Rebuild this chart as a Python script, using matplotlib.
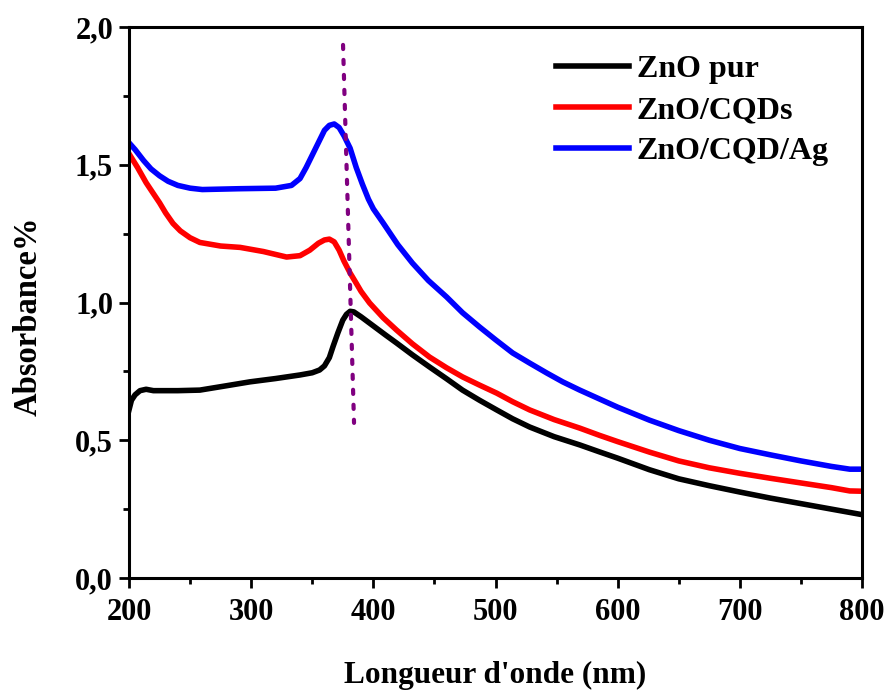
import numpy as np
import matplotlib
matplotlib.use("Agg")
import matplotlib.pyplot as plt
from matplotlib.ticker import MultipleLocator, FuncFormatter

plt.rcParams['font.family'] = ['Liberation Serif', 'DejaVu Serif']
plt.rcParams['font.weight'] = 'bold'

# ZnO pur
wl_zno = [200, 202, 205, 209, 214, 220, 240, 258, 280, 299, 320, 340, 350, 356, 360, 364, 367,
          371, 375, 378, 381, 384, 390, 400, 410, 419, 432, 446, 460, 473, 487, 501, 514, 528,
          548, 569, 585, 600, 626, 650, 675, 700, 725, 750, 775, 800]
abs_zno = [0.61, 0.645, 0.665, 0.68, 0.685, 0.68, 0.68, 0.682, 0.698, 0.712, 0.724, 0.737, 0.745,
           0.755, 0.77, 0.80, 0.84, 0.89, 0.936, 0.957, 0.968, 0.966, 0.948, 0.915, 0.882, 0.853,
           0.81, 0.766, 0.723, 0.682, 0.645, 0.61, 0.578, 0.548, 0.513, 0.483, 0.458, 0.435,
           0.393, 0.36, 0.335, 0.312, 0.29, 0.27, 0.25, 0.23]

# ZnO/CQDs
wl_cqd = [200, 207, 214, 220, 225, 230, 236, 242, 250, 258, 275, 291, 310, 329, 340, 348, 355,
          360, 364, 368, 372, 376, 381, 386, 390, 397, 408, 419, 432, 446, 460, 473, 487, 501,
          514, 528, 548, 569, 585, 600, 626, 650, 675, 700, 725, 750, 775, 790, 800]
abs_cqd = [1.54, 1.49, 1.435, 1.395, 1.362, 1.325, 1.287, 1.26, 1.235, 1.218, 1.205, 1.20, 1.185,
           1.165, 1.17, 1.19, 1.215, 1.227, 1.23, 1.22, 1.19, 1.15, 1.107, 1.07, 1.04, 0.998,
           0.945, 0.90, 0.85, 0.802, 0.763, 0.73, 0.70, 0.671, 0.64, 0.61, 0.575, 0.544, 0.518,
           0.495, 0.457, 0.425, 0.40, 0.38, 0.362, 0.345, 0.328, 0.316, 0.315]

# ZnO/CQD/Ag
wl_ag = [200, 205, 212, 218, 225, 232, 240, 250, 260, 290, 320, 333, 340, 345, 350, 355, 360,
         364, 368, 372, 376, 381, 386, 391, 396, 400, 408, 420, 432, 445, 460, 473, 487, 500,
         514, 528, 542, 555, 569, 585, 600, 626, 650, 675, 700, 725, 750, 775, 790, 800]
abs_ag = [1.58, 1.555, 1.515, 1.485, 1.46, 1.44, 1.425, 1.415, 1.41, 1.413, 1.415, 1.425, 1.45,
          1.49, 1.535, 1.58, 1.625, 1.643, 1.648, 1.635, 1.605, 1.56, 1.49, 1.43, 1.375, 1.34,
          1.289, 1.21, 1.143, 1.08, 1.02, 0.963, 0.911, 0.865, 0.817, 0.78, 0.744, 0.712, 0.682,
          0.65, 0.62, 0.573, 0.535, 0.50, 0.47, 0.447, 0.425, 0.405, 0.395, 0.395]

# dotted guide line (start / end)
guide_x = [375.2, 384.2]
guide_y = [1.935, 0.563]

fig = plt.figure(figsize=(8.88, 6.95), dpi=100)
ax = fig.add_axes([129 / 888, 1 - 578 / 695, (862 - 129) / 888, (578 - 27) / 695])

lw = 4.0
ax.plot(wl_zno, abs_zno, color='black', lw=lw, label='ZnO pur', solid_joinstyle='round')
ax.plot(wl_cqd, abs_cqd, color='red', lw=lw, label='ZnO/CQDs', solid_joinstyle='round')
ax.plot(wl_ag, abs_ag, color='blue', lw=lw, label='ZnO/CQD/Ag', solid_joinstyle='round')
ax.plot(guide_x, guide_y, color='#800080', lw=3.0, linestyle=(0, (1.0, 2.6)),
        dash_capstyle='round')

ax.set_xlim(200, 800)
ax.set_ylim(0, 2.0)
ax.xaxis.set_major_locator(MultipleLocator(100))
ax.xaxis.set_minor_locator(MultipleLocator(50))
ax.yaxis.set_major_locator(MultipleLocator(0.5))
ax.yaxis.set_minor_locator(MultipleLocator(0.25))
ax.yaxis.set_major_formatter(FuncFormatter(lambda v, p: f"{v:.1f}".replace('.', ',')))

ax.tick_params(which='both', direction='out', top=False, right=False, width=2.0,
               labelsize=22)
ax.tick_params(axis='x', pad=7)
ax.tick_params(axis='y', pad=4)
ax.tick_params(which='major', length=7.5)
ax.tick_params(which='minor', length=4.5)
for s in ax.spines.values():
    s.set_linewidth(2.2)

ax.set_xlabel("Longueur d'onde (nm)", fontsize=22.5, fontweight='bold', labelpad=24)
ax.set_ylabel("Absorbance%", fontsize=23.5, fontweight='bold')
ax.yaxis.set_label_coords(-0.117, 0.4755)

ax.legend(loc='upper left', bbox_to_anchor=(556 / 888, 1 - 55 / 695),
          bbox_transform=fig.transFigure, frameon=False, fontsize=23,
          handlelength=2.3, handletextpad=0.22, labelspacing=0.36,
          borderpad=0, borderaxespad=0)

fig.savefig("out.png", dpi=100)
